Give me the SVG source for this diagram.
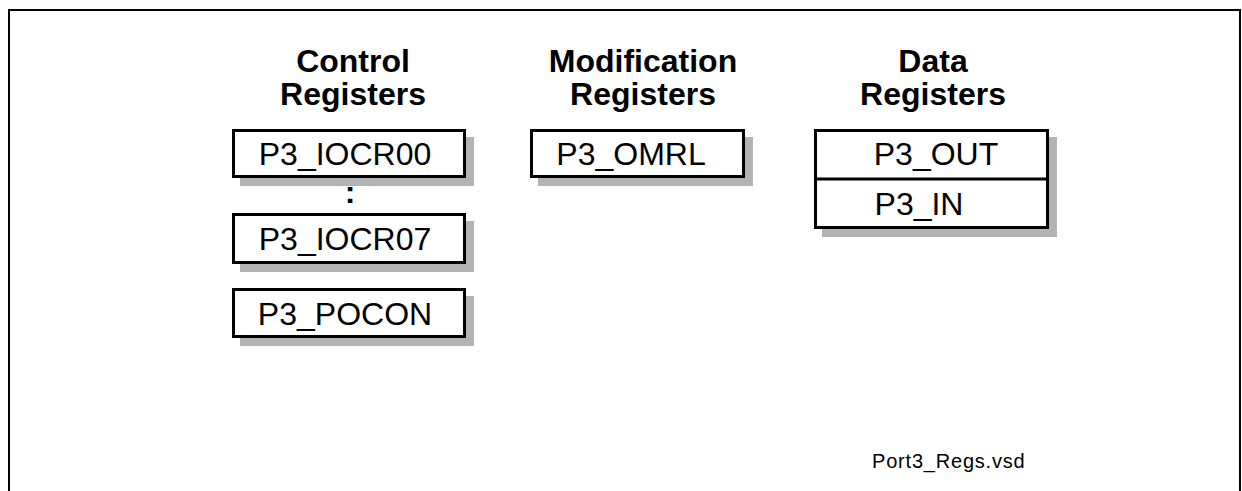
<svg xmlns="http://www.w3.org/2000/svg" width="1242" height="491" viewBox="0 0 1242 491">
  <style>
    .hdr { font-family: "Liberation Sans", Arial, sans-serif; font-weight: bold; font-size: 32px; fill: #000; text-anchor: middle; }
    .lbl { font-family: "Liberation Sans", Arial, sans-serif; font-size: 32px; fill: #000; text-anchor: middle; }
    .box { fill: #fff; stroke: #000; stroke-width: 3; }
    .shadow { fill: #b3b3b3; }
    .foot { font-family: "Liberation Sans", Arial, sans-serif; font-size: 20px; letter-spacing: 0.8px; fill: #000; }
  </style>
  <rect x="0" y="0" width="1242" height="491" fill="#fff"/>
  <path d="M9 500 V10 H1240 V500" fill="none" stroke="#000" stroke-width="2"/>

  <g id="hdr-control">
    <text class="hdr" x="353" y="72">Control</text>
    <text class="hdr" x="353" y="105">Registers</text>
  </g>
  <g id="hdr-modification">
    <text class="hdr" x="643" y="72">Modification</text>
    <text class="hdr" x="643" y="105">Registers</text>
  </g>
  <g id="hdr-data">
    <text class="hdr" x="933" y="72">Data</text>
    <text class="hdr" x="933" y="105">Registers</text>
  </g>

  <g id="P3_IOCR00">
    <rect class="shadow" x="240" y="137" width="234" height="49"/>
    <rect class="box" x="233.5" y="130.5" width="231" height="46"/>
    <text class="lbl" x="345" y="165">P3_IOCR00</text>
  </g>
  <g id="dots">
    <text class="hdr" x="350" y="203">:</text>
  </g>
  <g id="P3_IOCR07">
    <rect class="shadow" x="240" y="221" width="234" height="51"/>
    <rect class="box" x="233.5" y="214.5" width="231" height="48"/>
    <text class="lbl" x="345" y="250">P3_IOCR07</text>
  </g>
  <g id="P3_POCON">
    <rect class="shadow" x="240" y="296" width="234" height="50"/>
    <rect class="box" x="233.5" y="289.5" width="231" height="47"/>
    <text class="lbl" x="345" y="325">P3_POCON</text>
  </g>

  <g id="P3_OMRL">
    <rect class="shadow" x="538" y="137" width="215" height="49"/>
    <rect class="box" x="531.5" y="130.5" width="212" height="46"/>
    <text class="lbl" x="631" y="165">P3_OMRL</text>
  </g>

  <g id="data-registers">
    <rect class="shadow" x="822" y="137" width="235" height="100"/>
    <rect class="box" x="815.5" y="130.5" width="232" height="97"/>
    <line x1="815.5" y1="179" x2="1047.5" y2="179" stroke="#000" stroke-width="3"/>
    <text class="lbl" x="936" y="165">P3_OUT</text>
    <text class="lbl" x="919" y="215">P3_IN</text>
  </g>

  <g id="connectors"></g>

  <text class="foot" x="872" y="468">Port3_Regs.vsd</text>
</svg>
